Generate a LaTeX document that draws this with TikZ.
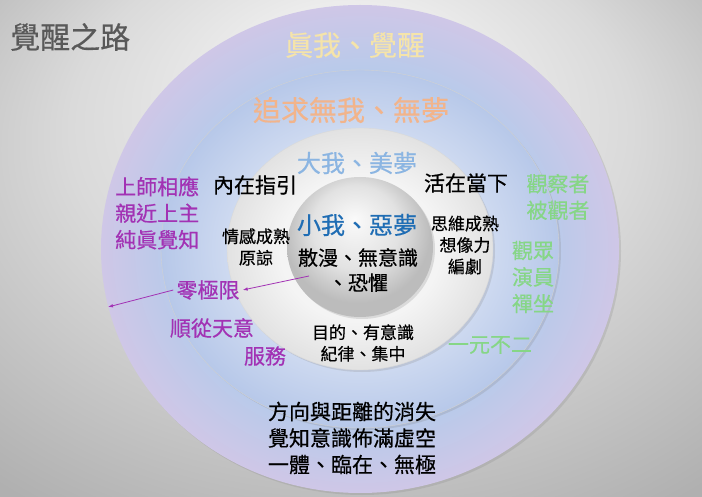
\documentclass[tikz,border=0pt]{standalone}
\usepackage{fontspec}
\setmainfont{Noto Sans CJK TC}[FakeBold=0.5]
\usetikzlibrary{arrows.meta,shadows}

\definecolor{bgLight}{HTML}{F8F8F8}
\definecolor{bgMid}{HTML}{DADADA}
\definecolor{bgDark}{HTML}{B0B0B0}
\definecolor{ringLav}{HTML}{CFC7E7}
\definecolor{ringBlue}{HTML}{B9CAEA}
\definecolor{midLight}{HTML}{CDD9F0}
\definecolor{midBlue}{HTML}{B7C8E9}
\definecolor{discLight}{HTML}{F4F4F4}
\definecolor{discEdge}{HTML}{E2E2E2}
\definecolor{ballLight}{HTML}{FAFAFA}
\definecolor{ballMid}{HTML}{E2E2E2}
\definecolor{ballEdge}{HTML}{BCBCBC}
\definecolor{titleGray}{HTML}{595959}
\definecolor{selfCream}{HTML}{F5E4AA}
\definecolor{dreamPeach}{HTML}{F2B48B}
\definecolor{bigBlue}{HTML}{8BB5E2}
\definecolor{smallBlue}{HTML}{1F6DB4}
\definecolor{guruPurple}{HTML}{A232B4}
\definecolor{witnessGreen}{HTML}{86D686}

% shadings for the background and the rings
\pgfdeclareradialshading{bgshade}{\pgfpoint{0bp}{20bp}}{color(0bp)=(bgLight); color(20bp)=(bgMid); color(38bp)=(bgDark); color(50bp)=(bgDark)}
\pgfdeclareradialshading{outerring}{\pgfpoint{0bp}{0bp}}{color(0bp)=(ringBlue); color(18.5bp)=(ringBlue); color(25bp)=(ringLav); color(50bp)=(ringLav)}
\pgfdeclareradialshading{midring}{\pgfpoint{0bp}{0bp}}{color(0bp)=(midLight); color(17bp)=(midLight); color(25bp)=(midBlue); color(50bp)=(midBlue)}
\pgfdeclareradialshading{disc}{\pgfpoint{0bp}{0bp}}{color(0bp)=(discLight); color(15bp)=(discLight); color(25bp)=(discEdge); color(50bp)=(discEdge)}
\pgfdeclareradialshading{ball}{\pgfpoint{-2bp}{10bp}}{color(0bp)=(ballLight); color(15bp)=(ballMid); color(25bp)=(ballEdge); color(50bp)=(ballEdge)}

\begin{document}
\begin{tikzpicture}[x=1pt, y=-1pt, >=Latex,
  ringshadow/.style={drop shadow={opacity=0.22, shadow xshift=2pt, shadow yshift=-2pt}},
  lbl/.style={inner sep=1pt, align=center},
  big/.style={lbl, font=\fontsize{28}{32}\selectfont},
  mid/.style={lbl, font=\fontsize{24}{28}\selectfont},
  txt/.style={lbl, font=\fontsize{21}{26.5}\selectfont},
  sml/.style={lbl, font=\fontsize{17}{21.5}\selectfont},
  zeroarrow/.style={->, guruPurple, line width=0.8pt, >={Latex[length=5pt,width=3.5pt]}}]
% ---------- page ----------
\useasboundingbox (0,0) rectangle (702,497);
\shade[shading=bgshade] (0,0) rectangle (702,497);
\coordinate (C) at (360,249); % common centre of the rings

% ---------- rings ----------
\shade[shading=outerring, ringshadow] (C) ellipse [x radius=259, y radius=244];
\shade[shading=midring, ringshadow, draw=gray!35, line width=0.4pt] (C) ellipse [x radius=199, y radius=179];
\shade[shading=disc, ringshadow, draw=gray!30, line width=0.4pt] (C) ellipse [x radius=133, y radius=121];
\shade[shading=ball, ringshadow] (360,247) ellipse [x radius=73, y radius=70];

% ---------- title ----------
\node[anchor=west, inner sep=0pt, text=titleGray, font=\fontsize{30}{34}\selectfont] (title) at (10,37) {覺醒之路};

% ---------- outer ring ----------
\node[big, text=selfCream] (trueSelf) at (355,45) {眞我、覺醒};
\node[txt, text=guruPurple, align=left, anchor=west] (guru) at (114,213) {上師相應\\親近上主\\純眞覺知};
\node[txt, text=witnessGreen] (witness) at (558,197) {觀察者\\被觀者};
\node[txt, text=black] (vanish) at (352,438) {方向與距離的消失\\覺知意識佈滿虛空\\一體、臨在、無極};

% ---------- middle ring ----------
\node[big, text=dreamPeach] (noSelf) at (351,110) {追求無我、無夢};
\node[txt, text=black] (guide) at (255,185) {內在指引};
\node[txt, text=black] (present) at (466,183) {活在當下};
\node[txt, text=witnessGreen] (audience) at (533,277) {觀眾\\演員\\禪坐};
\node[txt, text=guruPurple, inner sep=3pt] (zero) at (208,290) {零極限};
\node[txt, text=guruPurple] (obey) at (212,328) {順從天意};
\node[txt, text=guruPurple] (serve) at (265,356) {服務};
\node[txt, text=witnessGreen] (nondual) at (490,345) {一元不二};

% ---------- inner disc ----------
\node[mid, text=bigBlue] (bigSelf) at (357,163) {大我、美夢};
\node[sml, text=black] (emotion) at (256,247) {情感成熟\\原諒};
\node[sml, text=black] (thought) at (465,245) {思維成熟\\想像力\\編劇};
\node[sml, text=black] (purpose) at (363,343) {目的、有意識\\紀律、集中};

% ---------- core ----------
\node[mid, text=smallBlue] (smallSelf) at (357,225) {小我、惡夢};
\node[lbl, text=black, font=\fontsize{20}{25}\selectfont] (fear) at (358,270) {散漫、無意識\\、恐懼};

% ---------- arrows out of the core ----------
\coordinate (fearTail) at (309,276);
\coordinate (rim) at (108,307);
\draw[zeroarrow] (fearTail) -- (zero.east);
\draw[zeroarrow] (zero.west) -- (rim);
\end{tikzpicture}
\end{document}
